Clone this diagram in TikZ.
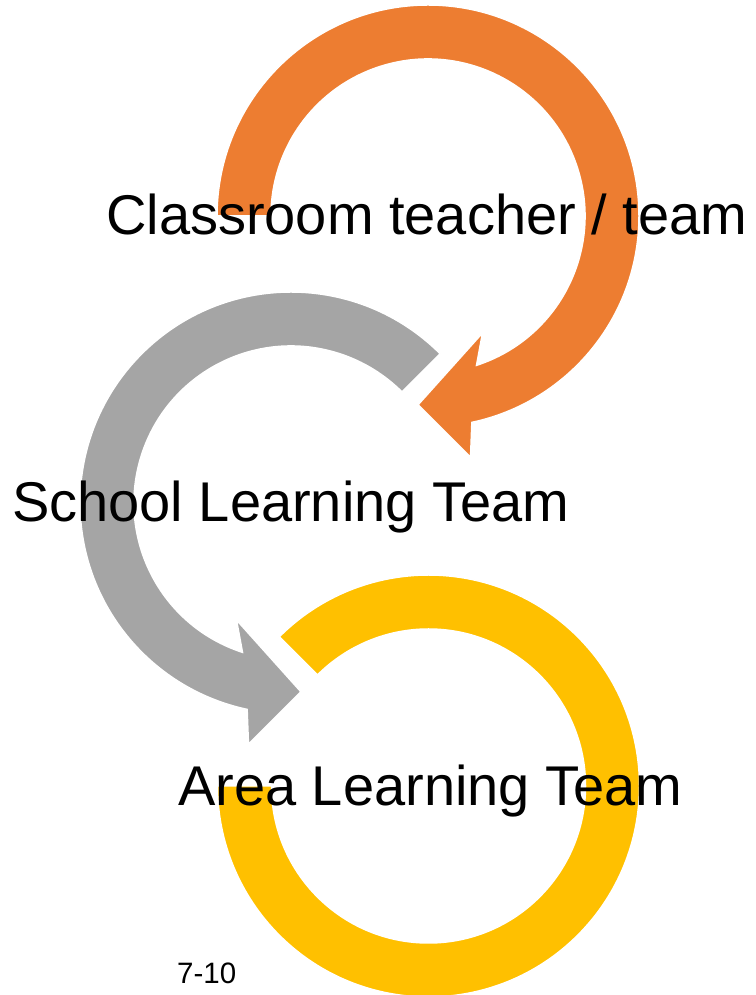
\documentclass[tikz,border=0pt]{standalone}
\usepackage{fontspec}
\setmainfont{Liberation Sans}
\definecolor{loopOrange}{HTML}{ED7D31}
\definecolor{loopGray}{HTML}{A5A5A5}
\definecolor{loopYellow}{HTML}{FFC000}
\begin{document}
\begin{tikzpicture}[x=1pt,y=1pt]
\tikzstyle{band} = [draw=white, line width=1.5pt, line join=miter]
\tikzstyle{teamtext} = [font=\fontsize{56}{60}\selectfont, inner sep=0pt, anchor=base west]
\useasboundingbox (0,0) rectangle (755,995);
% centres of the loops
\coordinate (classloop) at (428,779);
\coordinate (schoolloop) at (291,492);
\coordinate (arealoop) at (428.5,209);
% orange loop
\begin{scope}[shift={(classloop)}]
\draw[band, fill=loopOrange] (180:211) arc[start angle=180, end angle=-78, radius=211]
  -- (-80:245) -- (-93:189) -- (-65:129) -- (-72:157)
  arc[start angle=-72, end angle=180, radius=157] -- cycle;
\end{scope}
% gray loop
\begin{scope}[shift={(schoolloop)}]
\draw[band, fill=loopGray] (45:211) arc[start angle=45, end angle=258, radius=211]
  -- (260:245) -- (273:189) -- (245:129) -- (252:157)
  arc[start angle=252, end angle=45, radius=157] -- cycle;
\end{scope}
% yellow loop
\begin{scope}[shift={(arealoop)}]
\draw[band, fill=loopYellow] (135:211) arc[start angle=135, end angle=-180, radius=211]
  -- (180:157) arc[start angle=-180, end angle=135, radius=157] -- cycle;
\end{scope}
% texts
\node[teamtext] (classroom) at (106,760) {Classroom teacher / team};
\node[teamtext] (school) at (12,473) {School Learning Team};
\node[teamtext] (area) at (178,189) {Area Learning Team};
\node[font=\fontsize{29.5}{32}\selectfont, inner sep=0pt, anchor=base west] (grade) at (177,12) {7-10};
\end{tikzpicture}
\end{document}
